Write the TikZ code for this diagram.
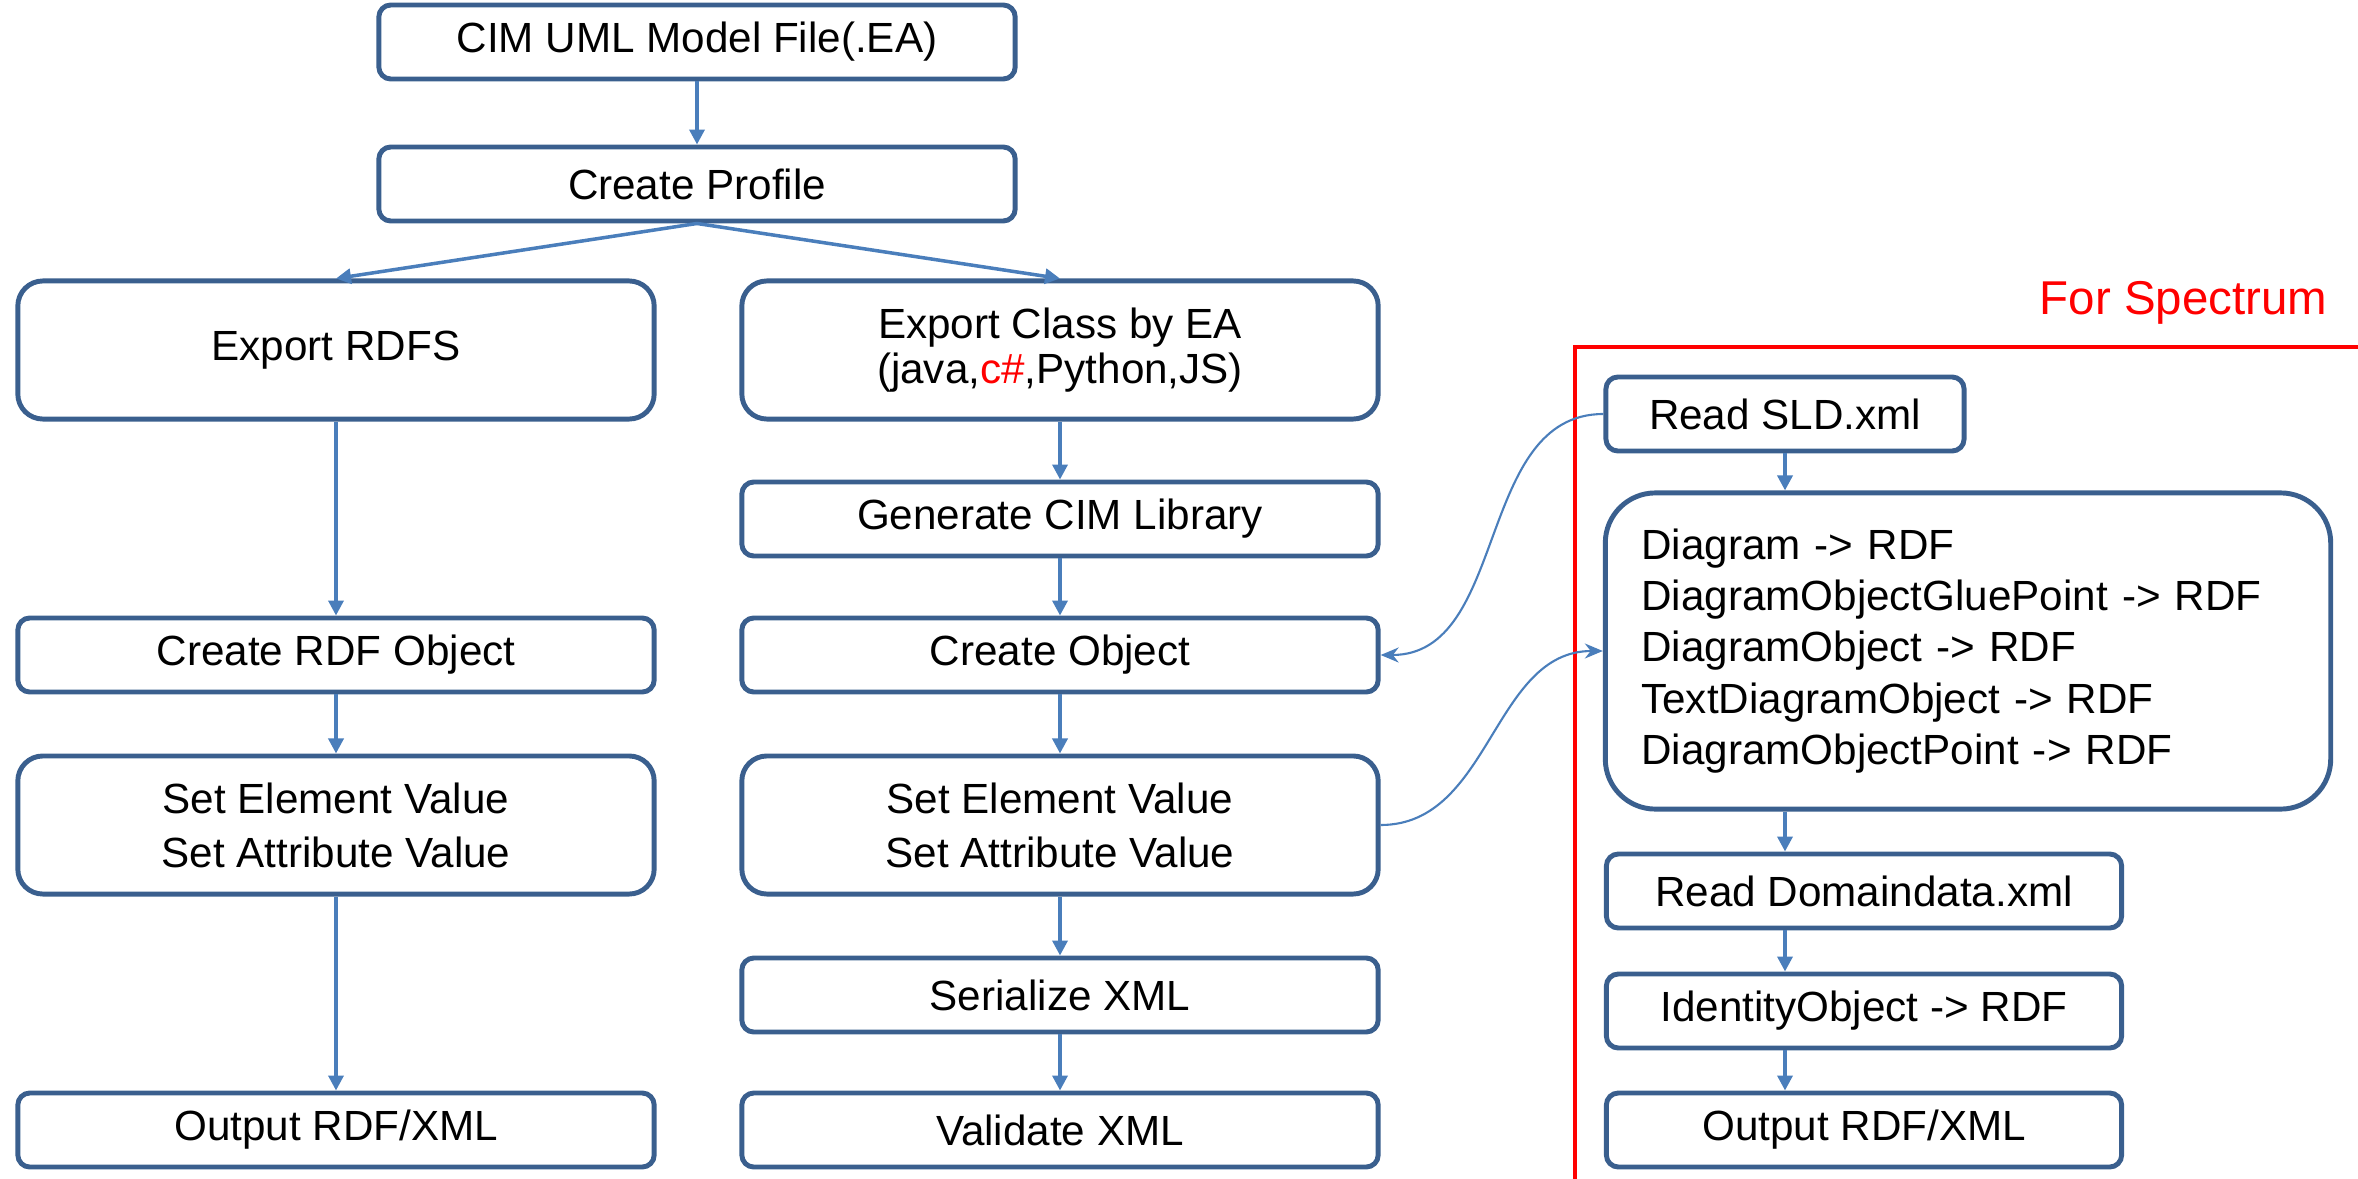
\documentclass[tikz,border=0pt]{standalone}
\usepackage{fontspec}
\setmainfont{Liberation Sans}
\usetikzlibrary{arrows.meta}
\definecolor{boxblue}{HTML}{3A5F8E}
\definecolor{lineblue}{HTML}{4A7EBB}
\begin{document}
\begin{tikzpicture}[x=0.01cm,y=-0.01cm]
\tikzstyle{proc}=[draw=boxblue,line width=1.4pt,rounded corners=0.12cm,minimum height=0.74cm,align=center,inner sep=0pt,font=\fontsize{12}{13.5}\selectfont]
\tikzstyle{wide}=[proc,minimum width=6.36cm]
\tikzstyle{tall}=[wide,minimum height=1.38cm,rounded corners=0.25cm]
\tikzstyle{side}=[proc,minimum width=5.15cm]
\tikzstyle{flow}=[draw=lineblue,line width=1pt,-{Triangle[length=0.15cm,width=0.15cm]}]
\tikzstyle{link}=[draw=lineblue,line width=0.6pt,-{Stealth[length=0.18cm,width=0.15cm]}]
\useasboundingbox (0,0) rectangle (2358,1179);

\node[wide] at (697,42) (model) {CIM UML Model File(.EA)};
\node[wide] at (697,184) (profile) {Create Profile};

\node[tall] at (336,350) (rdfs) {Export RDFS};
\node[tall,font=\fontsize{12}{12.8}\selectfont] at (1060,350) (cls) {Export Class by EA\\(java,\textcolor{red}{c\#},Python,JS)};
\node[wide] at (1060,519) (genlib) {Generate CIM Library};
\node[wide] at (336,655) (rdfobj) {Create RDF Object};
\node[wide] at (1060,655) (obj) {Create Object};
\node[tall,font=\fontsize{12}{15.4}\selectfont] at (336,825) (setl) {Set Element Value\\Set Attribute Value};
\node[tall,font=\fontsize{12}{15.4}\selectfont] at (1060,825) (setm) {Set Element Value\\Set Attribute Value};
\node[wide] at (1060,995) (serial) {Serialize XML};
\node[wide] at (336,1130) (outl) {Output RDF/XML};
\node[wide] at (1060,1130) (valid) {Validate XML};

% spectrum part
\draw[red,line width=1.4pt] (2358,347) -- (1575,347) -- (1575,1179);
\node[text=red,anchor=east,inner sep=0pt,font=\fontsize{13.5}{16}\selectfont] at (2328,303) (spec) {For Spectrum};
\node[proc,minimum width=3.58cm] at (1785,414) (sld) {Read SLD.xml};
\node[proc,minimum width=7.25cm,minimum height=3.16cm,rounded corners=0.5cm,align=left,text width=6.53cm,inner xsep=0.36cm,font=\fontsize{12}{14.6}\selectfont] at (1968,651) (big) {Diagram -> RDF\\DiagramObjectGluePoint -> RDF\\DiagramObject -> RDF\\TextDiagramObject -> RDF\\DiagramObjectPoint -> RDF};
\node[side] at (1864,891) (dom) {Read Domaindata.xml};
\node[side] at (1864,1011) (ident) {IdentityObject -> RDF};
\node[side] at (1864,1130) (outr) {Output RDF/XML};

\draw[flow] (model) -- (profile);
\draw[flow] (profile.south) -- (rdfs.north);
\draw[flow] (profile.south) -- (cls.north);
\draw[flow] (rdfs) -- (rdfobj);
\draw[flow] (rdfobj) -- (setl);
\draw[flow] (setl) -- (outl);
\draw[flow] (cls) -- (genlib);
\draw[flow] (genlib) -- (obj);
\draw[flow] (obj) -- (setm);
\draw[flow] (setm) -- (serial);
\draw[flow] (serial) -- (valid);
\draw[flow] (sld.south) -- (sld.south |- big.north);
\draw[flow] (sld.south |- big.south) -- (sld.south |- dom.north);
\draw[flow] (sld.south |- dom.south) -- (sld.south |- ident.north);
\draw[flow] (sld.south |- ident.south) -- (sld.south |- outr.north);

\draw[link] (sld.west) to[out=180,in=0] (obj.east);
\draw[link] (setm.east) to[out=0,in=180] (big.west);
\end{tikzpicture}
\end{document}
